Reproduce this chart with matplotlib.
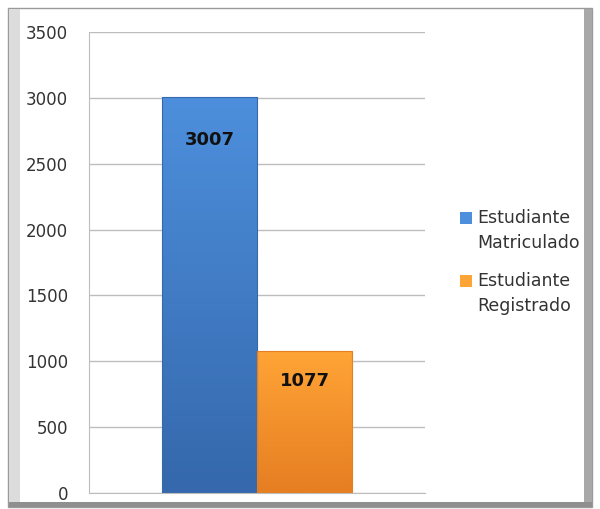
import numpy as np
import matplotlib.pyplot as plt
from matplotlib.patches import Rectangle
from matplotlib.colors import to_rgb

series = ['Estudiante\nMatriculado', 'Estudiante\nRegistrado']
values = [3007, 1077]
colors_top = ['#4d8fdc', '#ffa436']
colors_bottom = ['#3568ac', '#e67e22']

plt.rcParams['font.family'] = ['DejaVu Sans']

fig = plt.figure(figsize=(6, 5.09), dpi=100)
W, H = 600, 509

# outer chart frame with shaded edges
def px_rect(x0, y0, x1, y1, z=-5, **kw):
    fig.patches.append(Rectangle((x0 / W, 1 - y1 / H), (x1 - x0) / W, (y1 - y0) / H,
                                 transform=fig.transFigure, zorder=z, **kw))

px_rect(8, 8, 592, 507, facecolor='white', edgecolor='#9a9a9a', lw=1)
px_rect(9, 9, 20, 506, facecolor='#dcdcdc', edgecolor='none')
px_rect(584, 9, 592, 507, facecolor='#a8a8a8', edgecolor='none')
px_rect(9, 502, 592, 507, facecolor='#8f8f8f', edgecolor='none')

ax = fig.add_axes([89 / W, 1 - 493 / H, (425 - 89) / W, (493 - 32) / H])
ax.set_facecolor('none')

width = 0.283
xs = [-width / 2, width / 2]
bars = ax.bar(xs, values, width=width, color=colors_top, edgecolor='none', zorder=2)

# vertical gradient on each bar
for b, ct, cb in zip(bars, colors_top, colors_bottom):
    c1 = np.array(to_rgb(ct))
    c2 = np.array(to_rgb(cb))
    t = np.linspace(0, 1, 100)[:, None]
    grad = (c1 * (1 - t) + c2 * t)[:, None, :]
    x0, y0 = b.get_x(), b.get_y()
    im = ax.imshow(grad, extent=[x0, x0 + b.get_width(), y0, y0 + b.get_height()],
                   aspect='auto', origin='upper', zorder=2.5)
    im.set_clip_path(b)
    ax.add_patch(Rectangle((x0, y0), b.get_width(), b.get_height(), fill=False,
                           edgecolor=cb, lw=0.8, zorder=3))

label_offsets = [-43, -30]
for b, v, off in zip(bars, values, label_offsets):
    ax.annotate(str(v), (b.get_x() + b.get_width() / 2, v), xytext=(0, off * 0.72),
                textcoords='offset points', ha='center', va='center',
                fontsize=13, fontweight='bold', color='#111111', zorder=4)

ax.set_xlim(-0.5, 0.5)
ax.set_ylim(0, 3500)
ax.set_yticks(range(0, 3501, 500))
ax.set_xticks([])
ax.yaxis.grid(True, color='#bdbdbd', lw=1)
ax.set_axisbelow(True)
ax.tick_params(axis='y', length=0, pad=15, labelsize=12, labelcolor='#333333')
for s in ['top', 'right']:
    ax.spines[s].set_visible(False)
ax.spines['left'].set_color('#bdbdbd')
ax.spines['bottom'].set_color('#bdbdbd')

# legend drawn by hand so the marker sits on the first line of each label
legend_tops = [218, 281]
for name, c, ytop in zip(series, colors_top, legend_tops):
    px_rect(460, ytop - 6, 472, ytop + 6, z=5, facecolor=c, edgecolor='none')
    fig.text(477 / W, 1 - (ytop - 9) / H, name, ha='left', va='top', fontsize=12.5,
             color='#333333', linespacing=1.5)

fig.savefig('out.png', dpi=100)
